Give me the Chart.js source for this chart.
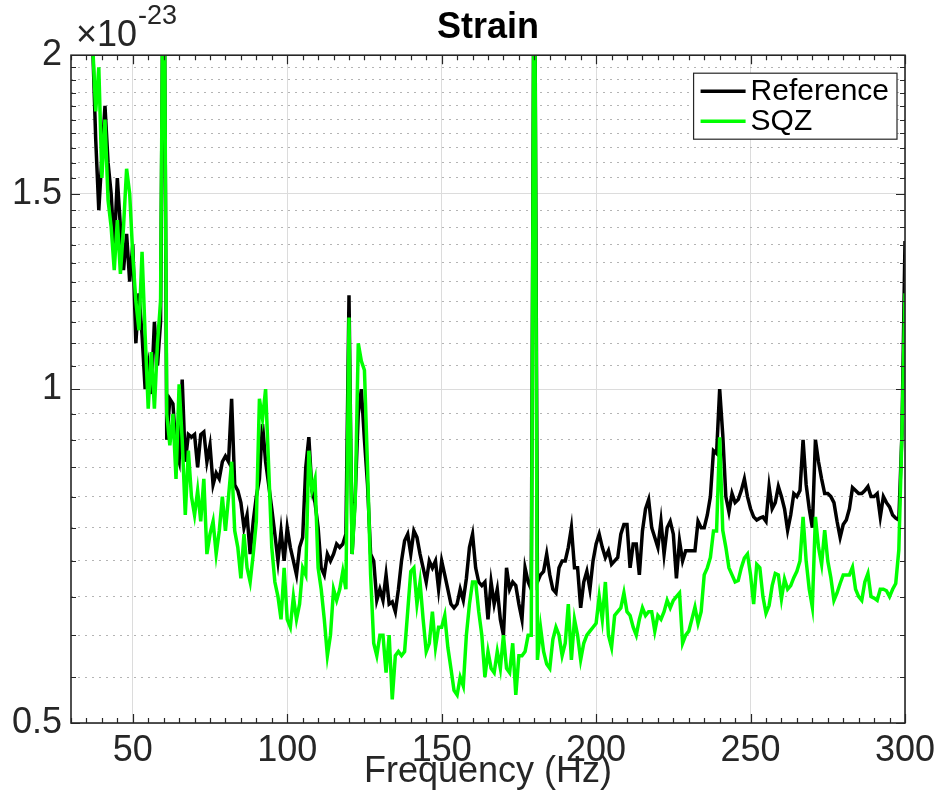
<!DOCTYPE html>
<html>
<head>
<meta charset="utf-8">
<script src="https://cdn.jsdelivr.net/npm/chart.js@4.4.0/dist/chart.umd.min.js"></script>
<style>
  html, body { margin: 0; padding: 0; background: #fff; }
  canvas { display: block; }
</style>
</head>
<body>
<canvas id="strain" width="938" height="805"></canvas>
<script>
// amplitude spectral density, units of 1e-23 /rtHz, 1 Hz bins starting at 37 Hz
const F_START = 37;

const refASD = [
  2.05, 1.68, 1.45, 1.62, 1.80, 1.60, 1.50, 1.34, 1.55, 1.40,
  1.28, 1.38, 1.25, 1.35, 1.10, 1.22, 1.12, 1.00, 1.05, 0.99,
  1.15, 1.05, 1.15, 3.00, 0.90, 0.98, 0.97, 0.88, 0.86, 1.02,
  0.86, 0.91, 0.905, 0.91, 0.85, 0.91, 0.915, 0.86, 0.89, 0.82,
  0.84, 0.83, 0.86, 0.87, 0.86, 0.98, 0.82, 0.81, 0.79, 0.75,
  0.77, 0.71, 0.76, 0.80, 0.83, 0.93, 0.86, 0.82, 0.78, 0.74,
  0.70, 0.745, 0.70, 0.75, 0.72, 0.70, 0.68, 0.72, 0.735, 0.85,
  0.905, 0.81, 0.79, 0.75, 0.69, 0.68, 0.71, 0.70, 0.71, 0.725,
  0.72, 0.725, 0.74, 1.215, 0.71, 0.80, 0.95, 1.00, 0.90, 0.82,
  0.71, 0.70, 0.645, 0.66, 0.645, 0.68, 0.64, 0.643, 0.63, 0.66,
  0.70, 0.73, 0.74, 0.71, 0.745, 0.735, 0.71, 0.69, 0.67, 0.70,
  0.69, 0.70, 0.66, 0.70, 0.68, 0.66, 0.64, 0.635, 0.64, 0.66,
  0.645, 0.675, 0.72, 0.74, 0.69, 0.67, 0.665, 0.67, 0.62, 0.67,
  0.64, 0.66, 0.62, 0.60, 0.69, 0.66, 0.67, 0.665, 0.64, 0.62,
  0.69, 0.67, 0.66, 3.00, 0.67, 0.68, 0.685, 0.71, 0.68, 0.66,
  0.655, 0.69, 0.70, 0.70, 0.72, 0.75, 0.69, 0.69, 0.635, 0.67,
  0.685, 0.66, 0.70, 0.725, 0.74, 0.72, 0.705, 0.715, 0.695, 0.70,
  0.705, 0.74, 0.755, 0.755, 0.69, 0.725, 0.725, 0.68, 0.745, 0.78,
  0.795, 0.75, 0.735, 0.72, 0.76, 0.71, 0.75, 0.76, 0.74, 0.675,
  0.73, 0.70, 0.715, 0.715, 0.715, 0.715, 0.76, 0.75, 0.75, 0.77,
  0.80, 0.88, 0.875, 1.00, 0.91, 0.80, 0.775, 0.805, 0.79, 0.795,
  0.81, 0.83, 0.80, 0.78, 0.767, 0.762, 0.765, 0.767, 0.76, 0.817,
  0.78, 0.79, 0.817, 0.80, 0.78, 0.746, 0.77, 0.805, 0.80, 0.81,
  0.90, 0.82, 0.78, 0.75, 0.90, 0.86, 0.83, 0.805, 0.805, 0.80,
  0.79, 0.76, 0.735, 0.755, 0.762, 0.78, 0.815, 0.81, 0.805, 0.805,
  0.81, 0.817, 0.80, 0.80, 0.805, 0.767, 0.80, 0.79, 0.783, 0.77,
  0.765, 0.762, 0.91, 1.36
];

const sqzASD = [
  2.05, 1.78, 1.95, 1.55, 1.75, 1.48, 1.40, 1.28, 1.42, 1.27,
  1.40, 1.58, 1.50, 1.32, 1.20, 1.13, 1.33, 1.12, 0.96, 1.08,
  0.96, 1.10, 1.20, 3.00, 0.95, 0.89, 0.95, 0.83, 1.01, 0.90,
  0.77, 0.88, 0.80, 0.77, 0.81, 0.76, 0.83, 0.71, 0.74, 0.76,
  0.71, 0.745, 0.80, 0.745, 0.80, 0.86, 0.745, 0.72, 0.675, 0.74,
  0.69, 0.67, 0.71, 0.76, 0.98, 0.94, 1.00, 0.85, 0.72, 0.67,
  0.65, 0.62, 0.69, 0.62, 0.61, 0.65, 0.62, 0.64, 0.69, 0.68,
  0.88, 0.81, 0.83, 0.69, 0.66, 0.62, 0.575, 0.60, 0.66, 0.645,
  0.66, 0.685, 0.66, 1.16, 0.71, 0.79, 1.10, 1.06, 1.04, 0.85,
  0.68, 0.59, 0.575, 0.60, 0.60, 0.555, 0.60, 0.525, 0.575, 0.58,
  0.575, 0.58, 0.63, 0.685, 0.69, 0.64, 0.67, 0.62, 0.58, 0.59,
  0.63, 0.585, 0.61, 0.61, 0.625, 0.585, 0.56, 0.535, 0.53, 0.55,
  0.54, 0.60, 0.64, 0.67, 0.67, 0.63, 0.60, 0.55, 0.58, 0.56,
  0.555, 0.58, 0.56, 0.60, 0.56, 0.555, 0.59, 0.53, 0.575, 0.575,
  0.58, 0.60, 0.60, 3.00, 0.57, 0.61, 0.58, 0.565, 0.56, 0.595,
  0.61, 0.60, 0.575, 0.59, 0.64, 0.57, 0.62, 0.60, 0.57, 0.59,
  0.60, 0.605, 0.61, 0.615, 0.65, 0.62, 0.67, 0.60, 0.585, 0.625,
  0.63, 0.635, 0.655, 0.63, 0.625, 0.61, 0.60, 0.62, 0.635, 0.625,
  0.63, 0.63, 0.605, 0.625, 0.62, 0.63, 0.645, 0.635, 0.645, 0.65,
  0.655, 0.59, 0.60, 0.605, 0.62, 0.636, 0.615, 0.63, 0.68, 0.69,
  0.705, 0.745, 0.745, 0.905, 0.746, 0.72, 0.69, 0.68, 0.67, 0.672,
  0.69, 0.704, 0.71, 0.68, 0.64, 0.695, 0.69, 0.65, 0.628, 0.638,
  0.665, 0.682, 0.68, 0.647, 0.674, 0.66, 0.665, 0.676, 0.685, 0.70,
  0.767, 0.70, 0.66, 0.636, 0.767, 0.72, 0.695, 0.746, 0.70, 0.676,
  0.645, 0.655, 0.668, 0.68, 0.68, 0.68, 0.691, 0.66, 0.65, 0.645,
  0.67, 0.682, 0.65, 0.648, 0.645, 0.66, 0.66, 0.658, 0.65, 0.66,
  0.668, 0.716, 0.91, 1.22
];

const freqs = refASD.map((_, i) => F_START + i);

const xTicks = [50, 100, 150, 200, 250, 300];
const yTicks = [0.5, 1, 1.5, 2];

const FONT = '"Liberation Sans", Arial, Helvetica, sans-serif';
const AXIS_COLOR = '#262626';

// minor tick / grid positions (every 5 Hz, every 0.05)
const xTickMarks = [];
for (let f = 30; f <= 300; f += 5) xTickMarks.push(f);
const yTickMarks = [];
for (let k = 10; k <= 40; k++) yTickMarks.push(k / 20);
const yMinorGrid = yTickMarks.filter(v => v * 2 !== Math.round(v * 2));

// box around the axes with inward tick marks, MATLAB style
const axesBox = {
  id: 'axesBox',
  afterDraw(chart) {
    const { ctx, chartArea: a, scales } = chart;
    const x = scales.x, y = scales.y;
    ctx.save();
    ctx.strokeStyle = AXIS_COLOR;
    ctx.lineWidth = 1.2;
    ctx.beginPath();
    xTickMarks.forEach(v => {
      const px = Math.round(x.getPixelForValue(v)) + 0.5;
      const len = v % 50 === 0 ? 9 : 5;
      ctx.moveTo(px, a.bottom); ctx.lineTo(px, a.bottom - len);
      ctx.moveTo(px, a.top); ctx.lineTo(px, a.top + len);
    });
    yTickMarks.forEach(v => {
      const py = Math.round(y.getPixelForValue(v)) + 0.5;
      const len = v * 2 === Math.round(v * 2) ? 9 : 5;
      ctx.moveTo(a.left, py); ctx.lineTo(a.left + len, py);
      ctx.moveTo(a.right, py); ctx.lineTo(a.right - len, py);
    });
    ctx.stroke();
    ctx.lineWidth = 1.6;
    ctx.strokeRect(a.left, a.top, a.right - a.left, a.bottom - a.top);

    // exponent label above the y axis
    ctx.fillStyle = AXIS_COLOR;
    ctx.textAlign = 'left';
    ctx.textBaseline = 'alphabetic';
    ctx.font = '36px ' + FONT;
    const base = '\u00d710';
    ctx.fillText(base, a.left + 5, 46);
    const w = ctx.measureText(base).width;
    ctx.font = '27px ' + FONT;
    ctx.fillText('-23', a.left + 5 + w + 1, 24);
    ctx.restore();
  }
};

// legend box in the upper right corner of the axes
const boxLegend = {
  id: 'boxLegend',
  afterDraw(chart) {
    const { ctx, chartArea: a } = chart;
    const sets = chart.data.datasets;
    ctx.save();
    ctx.font = '30px ' + FONT;
    const textW = Math.max(...sets.map(d => ctx.measureText(d.label).width));
    const rowH = 30, lineLen = 45;
    const w = 7 + lineLen + 5 + textW + 8;
    const h = rowH * sets.length + 6;
    const left = a.right - 8 - w, top = a.top + 18;
    ctx.fillStyle = '#fff';
    ctx.fillRect(left, top, w, h);
    ctx.strokeStyle = AXIS_COLOR;
    ctx.lineWidth = 1.2;
    ctx.strokeRect(left, top, w, h);
    sets.forEach((d, i) => {
      const cy = top + 3 + rowH * i + rowH / 2;
      ctx.strokeStyle = d.borderColor;
      ctx.lineWidth = 3.5;
      ctx.beginPath();
      ctx.moveTo(left + 7, cy);
      ctx.lineTo(left + 7 + lineLen, cy);
      ctx.stroke();
      ctx.fillStyle = '#000';
      ctx.textBaseline = 'middle';
      ctx.fillText(d.label, left + 7 + lineLen + 5, cy + 1);
    });
    ctx.restore();
  }
};

new Chart(document.getElementById('strain'), {
  type: 'line',
  data: {
    datasets: [
      {
        label: 'Reference',
        data: freqs.map((f, i) => ({ x: f, y: refASD[i] })),
        borderColor: '#000000',
        borderWidth: 3.5,
        pointRadius: 0,
        order: 1
      },
      {
        label: 'SQZ',
        data: freqs.map((f, i) => ({ x: f, y: sqzASD[i] })),
        borderColor: '#00ff00',
        borderWidth: 3.5,
        pointRadius: 0,
        order: 0
      }
    ]
  },
  options: {
    responsive: false,
    animation: false,
    devicePixelRatio: 1,
    events: [],
    layout: { padding: { left: 0, right: 33, top: 0, bottom: 0 } },
    plugins: {
      legend: { display: false },
      tooltip: { enabled: false },
      title: {
        display: true,
        text: 'Strain',
        fullSize: false,
        color: '#000',
        font: { family: FONT, size: 36, weight: 'bold' },
        padding: { top: 6, bottom: 6 }
      }
    },
    scales: {
      x: {
        type: 'linear',
        min: 30,
        max: 300,
        position: 'bottom',
        afterBuildTicks: s => { s.ticks = xTicks.map(v => ({ value: v })); },
        afterFit: s => { s.height = 82; s.paddingLeft = 0; s.paddingRight = 0; },
        grid: { color: '#dcdcdc', lineWidth: 1, drawTicks: false },
        border: { display: false },
        ticks: {
          autoSkip: false,
          maxRotation: 0,
          padding: 6,
          color: AXIS_COLOR,
          font: { family: FONT, size: 36 }
        },
        title: {
          display: true,
          text: 'Frequency (Hz)',
          color: AXIS_COLOR,
          font: { family: FONT, size: 36 },
          padding: { top: 0, bottom: 11 }
        }
      },
      y: {
        type: 'logarithmic',
        min: 0.5,
        max: 2,
        position: 'left',
        afterBuildTicks: s => { s.ticks = yTicks.map(v => ({ value: v })); },
        afterFit: s => { s.width = 71; },
        grid: { color: '#dcdcdc', lineWidth: 1, drawTicks: false },
        border: { display: false },
        ticks: {
          autoSkip: false,
          padding: 9,
          color: AXIS_COLOR,
          font: { family: FONT, size: 36 },
          callback: v => String(v)
        }
      },
      yMinor: {
        type: 'logarithmic',
        min: 0.5,
        max: 2,
        position: 'left',
        afterBuildTicks: s => { s.ticks = yMinorGrid.map(v => ({ value: v })); },
        afterFit: s => { s.width = 0; },
        grid: { color: '#b4b4b4', lineWidth: 1, drawTicks: false },
        border: { display: false, dash: [2, 5] },
        ticks: { display: false }
      }
    }
  },
  plugins: [axesBox, boxLegend]
});
</script>
</body>
</html>
